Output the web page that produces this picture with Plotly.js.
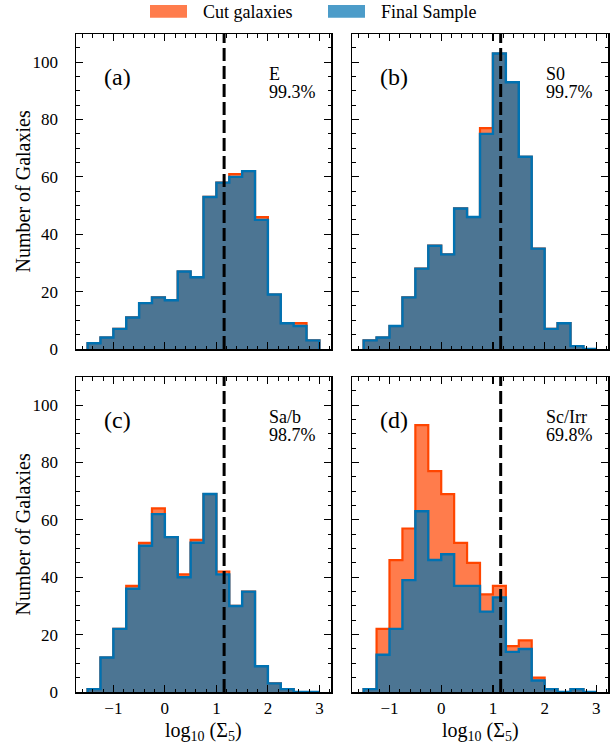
<!DOCTYPE html>
<html>
<head>
<meta charset="utf-8">
<script src="https://cdn.plot.ly/plotly-3.0.1.min.js"></script>
<style>html,body{margin:0;padding:0;background:#fff;}</style>
</head>
<body>
<div id="chart" style="width:614px;height:744px;"></div>
<script>
// ---------------- data ----------------
const binEdges = [-1.5, -1.25, -1, -0.75, -0.5, -0.25, 0, 0.25, 0.5, 0.75, 1, 1.25, 1.5, 1.75, 2, 2.25, 2.5, 2.75, 3];
const panelLabels = ['(a)', '(b)', '(c)', '(d)'];
const morphTypes = ['E', 'S0', 'Sa/b', 'Sc/Irr'];
const keptPercent = ['99.3%', '99.7%', '98.7%', '69.8%'];
const densityCut = 1.15;

const allE     = [2, 4, 7, 11, 16, 18, 17, 27, 25, 53, 58, 61, 62, 46, 19, 9, 9, 3];
const finalE   = [2, 4, 7, 11, 16, 18, 17, 27, 25, 53, 58, 60, 62, 45, 19, 9, 8, 3];
const allS0    = [3, 4, 8, 18, 28, 36, 33, 49, 46, 77, 103, 93, 67, 35, 7, 9, 1, 0];
const finalS0  = [3, 4, 8, 18, 28, 36, 33, 49, 46, 75, 103, 93, 67, 35, 7, 9, 1, 0];
const allSab   = [1, 12, 22, 37, 52, 64, 54, 41, 53, 69, 42, 30, 35, 9, 3, 1, 0, 0];
const finalSab = [1, 12, 22, 36, 51, 62, 54, 40, 52, 69, 41, 30, 35, 9, 3, 1, 0, 0];
const allScI   = [1, 22, 46, 57, 93, 77, 69, 52, 45, 34, 37, 16, 18, 5, 1, 0, 1, 0];
const finalScI = [1, 13, 22, 39, 63, 46, 48, 37, 37, 28, 33, 14, 15, 4, 1, 0, 1, 0];

const seriesNames = ['Cut galaxies', 'Final Sample'];
const xTitle = 'log<sub>10</sub> (Σ<sub>5</sub>)';
const yTitle = 'Number of Galaxies';

// ---------------- style ----------------
const FONT = 'Liberation Serif, Times New Roman, serif';
const orangeLine = 'rgb(255,69,0)';
const orangeFill = 'rgba(255,69,0,0.7)';
const blueLine = 'rgb(0,114,178)';
const blueFill = 'rgba(0,114,178,0.7)';

const W = 614, H = 744;
const M = {l: 76, r: 6, t: 34, b: 52};
const PW = W - M.l - M.r, PH = H - M.t - M.b;
const px2x = p => (p - M.l) / PW;
const px2y = p => (H - M.b - p) / PH;

function stepXY(counts) {
  const x = [binEdges[0]], y = [0];
  for (let i = 0; i < counts.length; i++) { x.push(binEdges[i]); y.push(counts[i]); }
  x.push(binEdges[counts.length]); y.push(0);
  return {x, y};
}

const panels = [
  {all: allE, fin: finalE},
  {all: allS0, fin: finalS0},
  {all: allSab, fin: finalSab},
  {all: allScI, fin: finalScI}
];

const traces = [];
panels.forEach((p, i) => {
  const ax = i === 0 ? '' : String(i + 1);
  const a = stepXY(p.all), f = stepXY(p.fin);
  traces.push({x: a.x, y: a.y, type: 'scatter', mode: 'lines', line: {shape: 'hv', color: orangeLine, width: 2.2},
    fill: 'tozeroy', fillcolor: orangeFill, name: seriesNames[0], showlegend: false, xaxis: 'x' + ax, yaxis: 'y' + ax, hoverinfo: 'skip'});
  traces.push({x: f.x, y: f.y, type: 'scatter', mode: 'lines', line: {shape: 'hv', color: blueLine, width: 2.4},
    fill: 'tozeroy', fillcolor: blueFill, name: seriesNames[1], showlegend: false, xaxis: 'x' + ax, yaxis: 'y' + ax, hoverinfo: 'skip'});
});

const xDomL = [0, px2x(331)], xDomR = [px2x(352), 1];
const yDomT = [px2y(349), 1], yDomB = [0, px2y(377)];

function xaxis(domain, anchor, labels) {
  return {
    domain, anchor, range: [-1.725, 3.225], tick0: 0, dtick: 1,
    ticks: 'inside', ticklen: 7, tickwidth: 1.2, tickcolor: '#000',
    mirror: 'allticks', showline: true, linewidth: 1.5, linecolor: '#000',
    showgrid: false, zeroline: false, showticklabels: labels,
    ticklabelstandoff: 0,
    tickfont: {family: FONT, size: 17, color: '#000'},
    minor: {dtick: 0.2, tick0: 0, ticks: 'inside', ticklen: 3.5, tickwidth: 1, tickcolor: '#000', showgrid: false}
  };
}
function yaxis(domain, anchor, labels) {
  return {
    domain, anchor, range: [0, 109.8], tick0: 0, dtick: 20,
    ticks: 'inside', ticklen: 7, tickwidth: 1.2, tickcolor: '#000',
    mirror: 'allticks', showline: true, linewidth: 1.5, linecolor: '#000',
    showgrid: false, zeroline: false, showticklabels: labels,
    ticklabelstandoff: 13,
    tickfont: {family: FONT, size: 17, color: '#000'},
    minor: {dtick: 5, tick0: 0, ticks: 'inside', ticklen: 3.5, tickwidth: 1, tickcolor: '#000', showgrid: false}
  };
}

const shapes = [];
const annotations = [];
panels.forEach((p, i) => {
  const ax = i === 0 ? '' : String(i + 1);
  shapes.push({type: 'line', xref: 'x' + ax, yref: 'y' + ax + ' domain', x0: densityCut, x1: densityCut, y0: 0, y1: 1,
    line: {color: '#000', width: 3, dash: '13px,5px'}, layer: 'above'});
  annotations.push({xref: 'x' + ax + ' domain', yref: 'y' + ax + ' domain', x: 0.1, y: 0.865, xanchor: 'left', yanchor: 'middle',
    text: panelLabels[i], showarrow: false, font: {family: FONT, size: 24, color: '#000'}});
  annotations.push({xref: 'x' + ax + ' domain', yref: 'y' + ax + ' domain', x: 0.75, y: 0.872, xanchor: 'left', yanchor: 'middle',
    text: morphTypes[i], showarrow: false, font: {family: FONT, size: 18, color: '#000'}});
  annotations.push({xref: 'x' + ax + ' domain', yref: 'y' + ax + ' domain', x: 0.75, y: 0.816, xanchor: 'left', yanchor: 'middle',
    text: keptPercent[i], showarrow: false, font: {family: FONT, size: 18, color: '#000'}});
});

// axis titles
[['x3', 'y3'], ['x4', 'y4']].forEach(([xa]) => {
  annotations.push({xref: xa + ' domain', yref: 'paper', x: 0.5, y: px2y(731), xanchor: 'center', yanchor: 'middle',
    text: xTitle, showarrow: false, font: {family: FONT, size: 20, color: '#000'}});
});
[['y', 191.5], ['y3', 534.5]].forEach(([ya, cy]) => {
  annotations.push({xref: 'paper', yref: 'paper', x: px2x(22), y: px2y(cy), xanchor: 'center', yanchor: 'middle',
    textangle: -90, text: yTitle, showarrow: false, font: {family: FONT, size: 20, color: '#000'}});
});

// legend (manual)
const legendItems = [
  {name: seriesNames[0], fill: orangeFill, x0: 150, x1: 187, tx: 201},
  {name: seriesNames[1], fill: blueFill, x0: 328, x1: 365, tx: 379}
];
legendItems.forEach(it => {
  shapes.push({type: 'rect', xref: 'paper', yref: 'paper', x0: px2x(it.x0), x1: px2x(it.x1), y0: px2y(17.7), y1: px2y(5),
    fillcolor: it.fill, line: {width: 0}});
  annotations.push({xref: 'paper', yref: 'paper', x: px2x(it.tx), y: px2y(12), xanchor: 'left', yanchor: 'middle',
    text: it.name, showarrow: false, font: {family: FONT, size: 18, color: '#000'}});
});

const layout = {
  width: W, height: H, margin: M,
  paper_bgcolor: '#fff', plot_bgcolor: '#fff',
  showlegend: false,
  font: {family: FONT, color: '#000'},
  xaxis: xaxis(xDomL, 'y', false),
  yaxis: yaxis(yDomT, 'x', true),
  xaxis2: xaxis(xDomR, 'y2', false),
  yaxis2: yaxis(yDomT, 'x2', false),
  xaxis3: xaxis(xDomL, 'y3', true),
  yaxis3: yaxis(yDomB, 'x3', true),
  xaxis4: xaxis(xDomR, 'y4', true),
  yaxis4: yaxis(yDomB, 'x4', false),
  shapes, annotations
};

Plotly.newPlot('chart', traces, layout, {displayModeBar: false, staticPlot: true});
</script>
</body>
</html>
